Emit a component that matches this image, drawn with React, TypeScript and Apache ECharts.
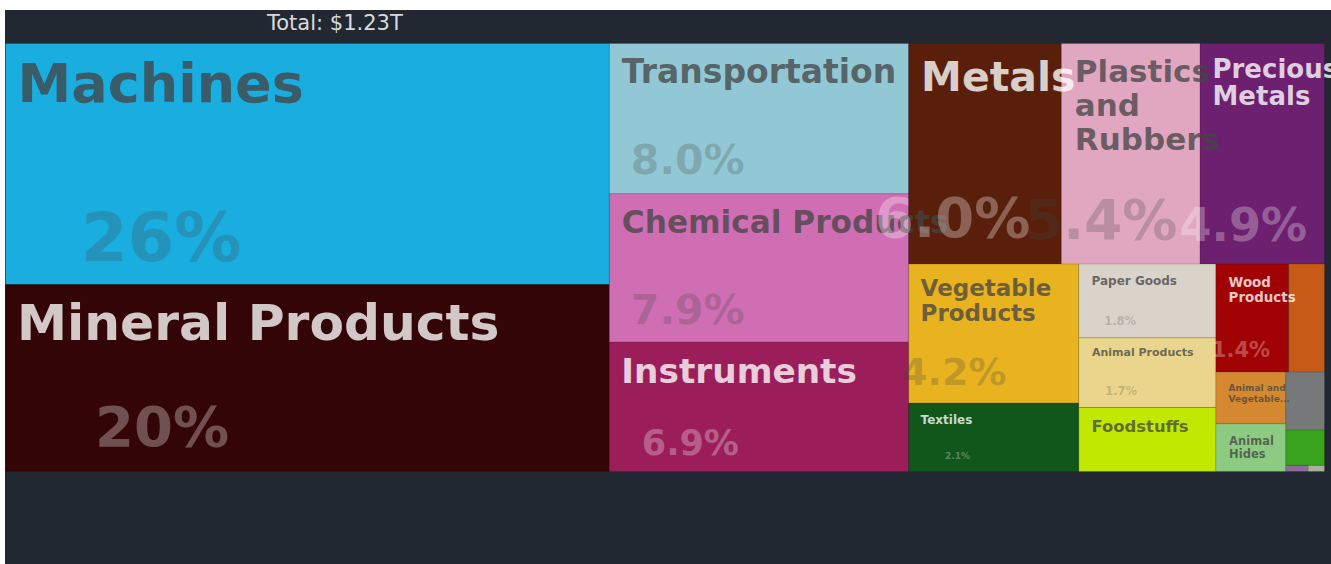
import React, { useEffect, useRef } from 'react';
import * as echarts from 'echarts';

// ---- data ----
const categories = [
  'Machines', 'Mineral Products', 'Transportation', 'Chemical Products', 'Instruments',
  'Metals', 'Plastics and Rubbers', 'Precious Metals', 'Vegetable Products', 'Textiles',
  'Paper Goods', 'Animal Products', 'Foodstuffs', 'Wood Products', 'Miscellaneous',
  'Animal and Vegetable Bi-Products', 'Animal Hides', 'Stone And Glass',
  'Footwear and Headwear', 'Weapons', 'Arts and Antiques',
];
// export values, billions of USD
const exportValues = [
  318, 247, 98.3, 97, 84.7,
  73.6, 66.8, 60, 51.7, 25.5,
  22.1, 20.9, 19.2, 17.2, 8.5,
  7.9, 7.3, 4.9,
  3.0, 0.3, 0.22,
];
const categoryColors = [
  '#1aade0', '#340506', '#92c8d5', '#cf6eb2', '#9b1e5b',
  '#591f0b', '#e1a7c1', '#6c206f', '#e8b31f', '#11561a',
  '#dad3c9', '#e9d58b', '#c1e800', '#a10203', '#c75a16',
  '#d4882f', '#8ecb82', '#77787a',
  '#3aa41e', '#8f6a9d', '#a8b1a0',
];

// displayed (wrapped) label lines
const labelLines: Record<string, string[]> = {
  'Plastics and Rubbers': ['Plastics', 'and', 'Rubbers'],
  'Precious Metals': ['Precious', 'Metals'],
  'Vegetable Products': ['Vegetable', 'Products'],
  'Wood Products': ['Wood', 'Products'],
  'Animal and Vegetable Bi-Products': ['Animal and', 'Vegetable...'],
  'Animal Hides': ['Animal', 'Hides'],
};

// ---- label styling (sizes / offsets inside each cell) ----
type LS = { nx: number; ny: number; nf: number; lh?: number; pf?: number; px?: number; py?: number; light?: boolean };
const labelStyles: Record<string, LS> = {
  'Machines': { nx: 11.5, ny: 12.7, nf: 54, pf: 67, px: 75, py: 161 },
  'Mineral Products': { nx: 11, ny: 12, nf: 50.3, pf: 56, px: 89, py: 113.4, light: true },
  'Transportation': { nx: 12, ny: 11.4, nf: 33, pf: 41, px: 21, py: 95.5 },
  'Chemical Products': { nx: 12, ny: 11.7, nf: 31.2, pf: 41, px: 21, py: 95.5 },
  'Instruments': { nx: 11.5, ny: 11, nf: 34.3, pf: 35, px: 32, py: 83, light: true },
  'Metals': { nx: 12, ny: 12.9, nf: 41, pf: 56, px: -34, py: 145.4, light: true },
  'Plastics and Rubbers': { nx: 13, ny: 10.2, nf: 31, lh: 34, pf: 55, px: -37, py: 149 },
  'Precious Metals': { nx: 12, ny: 11.8, nf: 26, lh: 27, pf: 46, px: -21, py: 158, light: true },
  'Vegetable Products': { nx: 11.5, ny: 10.6, nf: 23, lh: 25, pf: 38, px: -8, py: 88.3 },
  'Textiles': { nx: 11.5, ny: 10.8, nf: 12, pf: 9, px: 36, py: 47.6, light: true },
  'Paper Goods': { nx: 12.3, ny: 10.6, nf: 12, pf: 11.5, px: 25, py: 50.7 },
  'Animal Products': { nx: 12.7, ny: 9, nf: 11, pf: 11.5, px: 26, py: 47.4 },
  'Foodstuffs': { nx: 12.3, ny: 10.8, nf: 16.4 },
  'Wood Products': { nx: 12.3, ny: 10.3, nf: 13.4, lh: 15, pf: 21, px: -4.5, py: 75, light: true },
  'Animal and Vegetable Bi-Products': { nx: 12.3, ny: 9.6, nf: 9, lh: 11 },
  'Animal Hides': { nx: 12.8, ny: 10.9, nf: 11.5, lh: 12.5 },
};

const FONT = 'DejaVu Sans';
const DARK_NAME = 'rgba(68,68,68,0.77)';
const LIGHT_NAME = 'rgba(255,255,255,0.78)';
const DARK_PCT = 'rgba(68,68,68,0.25)';
const LIGHT_PCT = 'rgba(255,255,255,0.3)';

function shade(hex: string, f: number) {
  const n = parseInt(hex.slice(1), 16);
  const r = Math.round(((n >> 16) & 255) * (1 - f));
  const g = Math.round(((n >> 8) & 255) * (1 - f));
  const b = Math.round((n & 255) * (1 - f));
  return `rgb(${r},${g},${b})`;
}

export default function App() {
  const ref = useRef<HTMLDivElement>(null);
  useEffect(() => {
    if (!ref.current) return;
    const chart = echarts.init(ref.current, undefined, { renderer: 'svg' });
    const total = exportValues.reduce((a, b) => a + b, 0);

    const data = categories.map((name, i) => {
      const v = exportValues[i];
      const color = categoryColors[i];
      const st = labelStyles[name];
      const item: any = {
        name,
        value: v,
        itemStyle: { color, borderColor: shade(color, 0.18) },
      };
      if (!st) {
        item.label = { show: false };
        return item;
      }
      const pctText = (v / total * 100).toPrecision(2) + '%';
      const lines = labelLines[name] || [name];
      const lh = st.lh ?? st.nf;
      const ox = Math.min(st.nx, st.px ?? st.nx);
      let fmt = lines.map((l) => `{n|${l}}`).join('\n');
      const rich: any = {
        n: {
          fontFamily: FONT, fontWeight: 'bold', fontSize: st.nf, lineHeight: lh,
          color: st.light ? LIGHT_NAME : DARK_NAME, padding: [0, 0, 0, st.nx - ox],
        },
      };
      if (st.pf) {
        const gap = st.py! - st.ny - lines.length * lh;
        fmt += `\n{s| }\n{p|${pctText}}`;
        rich.s = { fontSize: 1, lineHeight: gap };
        rich.p = {
          fontFamily: FONT, fontWeight: 'bold', fontSize: st.pf, lineHeight: st.pf,
          color: st.light ? LIGHT_PCT : DARK_PCT, padding: [0, 0, 0, st.px! - ox],
        };
      }
      item.label = {
        show: true,
        position: 'insideTopLeft',
        distance: 0,
        padding: 0,
        offset: [ox, st.ny],
        overflow: 'none',
        formatter: fmt,
        rich,
      };
      return item;
    });

    chart.setOption({
      animation: false,
      backgroundColor: '#212832',
      title: {
        text: 'Total: $' + (total / 1000).toFixed(2) + 'T',
        left: 262,
        top: 2,
        padding: 0,
        textStyle: { color: '#dadada', fontSize: 21, fontWeight: 'normal', fontFamily: FONT },
      },
      series: [
        {
          type: 'treemap',
          left: 0,
          top: 33,
          width: 1320,
          height: 429,
          roam: false,
          nodeClick: false,
          breadcrumb: { show: false },
          visibleMin: 0,
          itemStyle: { borderWidth: 0.5, gapWidth: 0, borderColor: 'rgba(0,0,0,0)' },
          label: { show: true, overflow: 'none' },
          emphasis: { disabled: true },
          data,
        },
      ],
    });
    return () => chart.dispose();
  }, []);
  return <div ref={ref} style={{ position: 'absolute', left: 5, top: 10, width: 1326, height: 554 }} />;
}
